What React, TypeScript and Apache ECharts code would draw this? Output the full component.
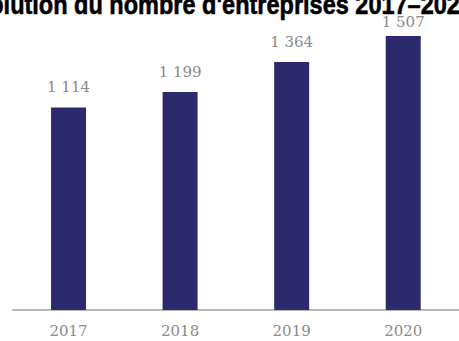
import React, { useEffect, useRef } from "react";
import * as echarts from "echarts";

const title = "Évolution du nombre d'entreprises 2017–2020";
const years = ["2017", "2018", "2019", "2020"];
const companies = [1114, 1199, 1364, 1507];

function fmt(v: number): string {
  const s = String(v);
  return s.length > 3 ? s.slice(0, s.length - 3) + " " + s.slice(-3) : s;
}

export default function App() {
  const ref = useRef<HTMLDivElement>(null);
  useEffect(() => {
    if (!ref.current) return;
    const chart = echarts.init(ref.current, undefined, { renderer: "svg" });
    chart.setOption({
      animation: false,
      backgroundColor: "#ffffff",
      grid: { left: 12.75, right: -12, top: 10, bottom: 31, containLabel: false },
      xAxis: {
        type: "category",
        data: years,
        axisLine: { show: true, lineStyle: { color: "#a0a0a0", width: 1.5 } },
        axisTick: { show: false },
        axisLabel: {
          color: "#8a8a8a",
          fontFamily: "DejaVu Serif",
          fontSize: 15,
          margin: 13,
        },
      },
      yAxis: {
        type: "value",
        min: 0,
        max: 1650,
        show: false,
        splitLine: { show: false },
      },
      series: [
        {
          type: "bar",
          barWidth: 35,
          itemStyle: { color: "#2c2a6c" },
          data: companies.map((v, i) => ({
            value: v,
            label: { distance: i === companies.length - 1 ? 7 : 13 },
          })),
          label: {
            show: true,
            position: "top",
            color: "#8a8a8a",
            fontFamily: "DejaVu Serif",
            fontSize: 15,
            formatter: (p: any) => fmt(p.value),
          },
        },
      ],
      graphic: [
        {
          type: "text",
          x: 473,
          y: -10,
          scaleX: 0.84,
          style: {
            text: title,
            font: 'bold 28px "Liberation Sans"',
            fill: "#000000",
            stroke: "#000000",
            lineWidth: 0.6,
            align: "right",
            verticalAlign: "top",
          },
        },
      ],
    });
    return () => chart.dispose();
  }, []);
  return <div ref={ref} style={{ width: 459, height: 341, position: "fixed", left: 0, top: 0 }} />;
}
